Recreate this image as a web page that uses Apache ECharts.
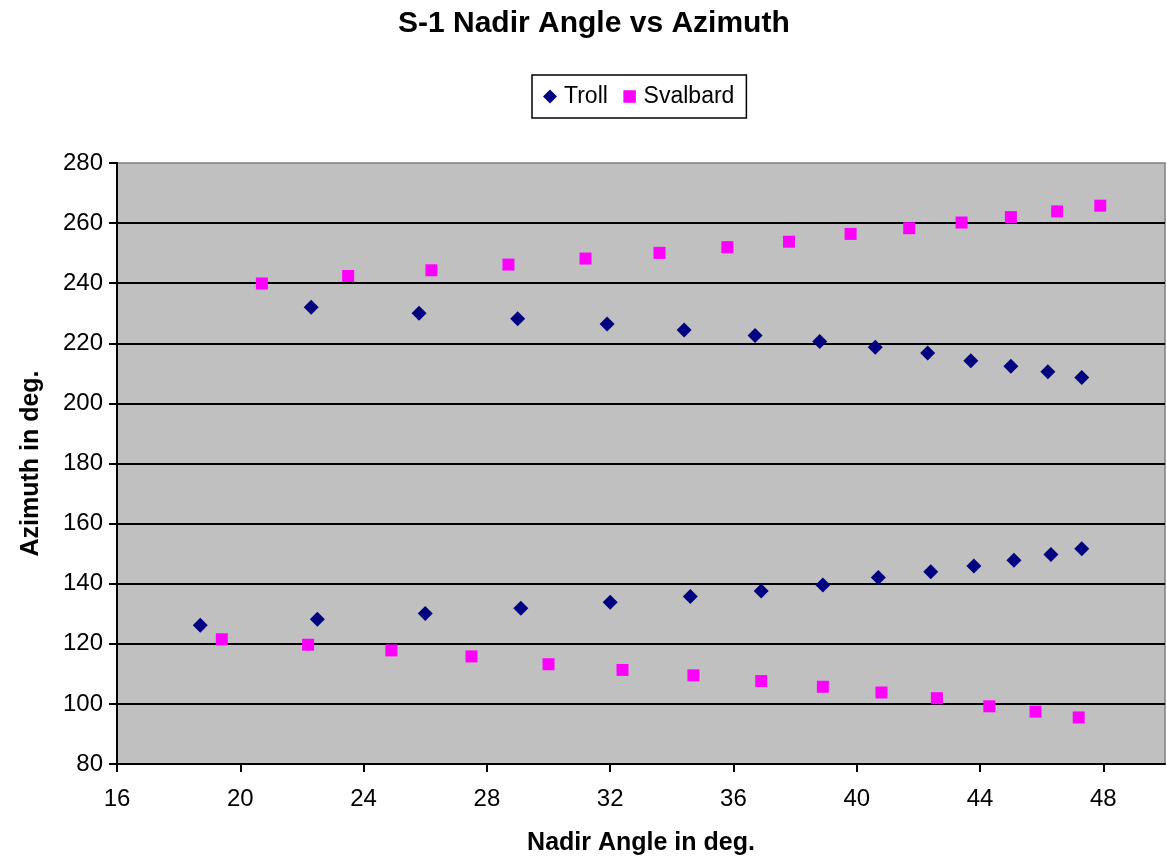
<!DOCTYPE html>
<html>
<head>
<meta charset="utf-8">
<title>S-1 Nadir Angle vs Azimuth</title>
<script src="https://cdn.jsdelivr.net/npm/echarts@6/dist/echarts.min.js"></script>
<style>
  html, body { margin: 0; padding: 0; background: #fff; }
  #chart { width: 1167px; height: 857px; }
</style>
</head>
<body>
<div id="chart"></div>
<script>
// Troll ground station: nadir angle (deg) and azimuth (deg)
const trollNadir = [18.7, 22.5, 26.0, 29.1, 32.0, 34.6, 36.9, 38.9, 40.7, 42.4, 43.8, 45.1, 46.3, 47.3,
                    22.3, 25.8, 29.0, 31.9, 34.4, 36.7, 38.8, 40.6, 42.3, 43.7, 45.0, 46.2, 47.3];
const trollAzimuth = [126.2, 128.2, 130.1, 131.8, 133.8, 135.7, 137.6, 139.6, 142.1, 144.0, 145.9, 147.8, 149.7, 151.6,
                      232.0, 230.0, 228.2, 226.4, 224.4, 222.6, 220.6, 218.7, 216.8, 214.2, 212.4, 210.5, 208.6];

// Svalbard ground station: nadir angle (deg) and azimuth (deg)
const svalbardNadir = [19.4, 22.2, 24.9, 27.5, 30.0, 32.4, 34.7, 36.9, 38.9, 40.8, 42.6, 44.3, 45.8, 47.2,
                       20.7, 23.5, 26.2, 28.7, 31.2, 33.6, 35.8, 37.8, 39.8, 41.7, 43.4, 45.0, 46.5, 47.9];
const svalbardAzimuth = [121.5, 119.7, 117.8, 115.8, 113.2, 111.3, 109.5, 107.6, 105.7, 103.8, 101.9, 99.2, 97.4, 95.5,
                         239.9, 242.4, 244.3, 246.2, 248.2, 250.1, 252.0, 253.8, 256.4, 258.3, 260.2, 262.0, 263.9, 265.8];

// Axis tick labels
const xTicks = [16, 20, 24, 28, 32, 36, 40, 44, 48];
const yTicks = [80, 100, 120, 140, 160, 180, 200, 220, 240, 260, 280];

const pairs = (xs, ys) => xs.map((x, i) => [x, ys[i]]);
const FONT = 'Liberation Sans, Arial, sans-serif';

const chart = echarts.init(document.getElementById('chart'), null, { renderer: 'canvas' });

chart.setOption({
  animation: false,
  backgroundColor: '#ffffff',
  title: {
    text: 'S-1 Nadir Angle vs Azimuth',
    left: 398,
    top: 9,
    padding: 0,
    textStyle: { fontFamily: FONT, fontSize: 30, fontWeight: 'bold', color: '#000' }
  },
  legend: {
    left: 532,
    top: 75,
    padding: [10, 12, 10, 11],
    itemGap: 14,
    itemWidth: 14,
    itemHeight: 14,
    borderColor: '#000',
    borderWidth: 1.5,
    backgroundColor: '#fff',
    textStyle: { fontFamily: FONT, fontSize: 23, color: '#000', padding: [0, 0, 0, 2] },
    data: [
      { name: 'Troll', icon: 'diamond' },
      { name: 'Svalbard', icon: 'rect', itemStyle: { borderColor: '#fff', borderWidth: 1.5 } }
    ]
  },
  grid: {
    left: 117,
    top: 163,
    right: 2,
    bottom: 93,
    outerBoundsMode: 'none',
    show: true,
    backgroundColor: '#C0C0C0',
    borderColor: '#808080',
    borderWidth: 1.5
  },
  xAxis: {
    type: 'value',
    min: 16,
    max: 50,
    interval: 4,
    name: 'Nadir Angle in deg.',
    nameLocation: 'middle',
    nameGap: 67,
    nameTextStyle: { fontFamily: FONT, fontSize: 25, fontWeight: 'bold', color: '#000' },
    axisLine: { show: true, lineStyle: { color: '#000', width: 2 } },
    axisTick: { show: true, length: 8, customValues: xTicks, lineStyle: { color: '#000', width: 2 } },
    axisLabel: { customValues: xTicks, margin: 23, fontFamily: FONT, fontSize: 24, color: '#000' },
    splitLine: { show: false }
  },
  yAxis: {
    type: 'value',
    min: 80,
    max: 280,
    interval: 20,
    name: 'Azimuth in deg.',
    nameLocation: 'middle',
    nameGap: 73,
    nameTextStyle: { fontFamily: FONT, fontSize: 25, fontWeight: 'bold', color: '#000' },
    axisLine: { show: true, lineStyle: { color: '#000', width: 2 } },
    axisTick: { show: true, length: 8, customValues: yTicks, lineStyle: { color: '#000', width: 2 } },
    axisLabel: { customValues: yTicks, margin: 14, fontFamily: FONT, fontSize: 24, color: '#000' },
    splitLine: { show: true, showMinLine: false, showMaxLine: false, lineStyle: { color: '#000', width: 2 } }
  },
  series: [
    {
      name: 'Troll',
      type: 'scatter',
      symbol: 'diamond',
      symbolSize: 15,
      itemStyle: { color: '#000080', opacity: 1 },
      data: pairs(trollNadir, trollAzimuth)
    },
    {
      name: 'Svalbard',
      type: 'scatter',
      symbol: 'rect',
      symbolSize: 12,
      itemStyle: { color: '#FF00FF', opacity: 1 },
      data: pairs(svalbardNadir, svalbardAzimuth)
    }
  ]
});
</script>
</body>
</html>
